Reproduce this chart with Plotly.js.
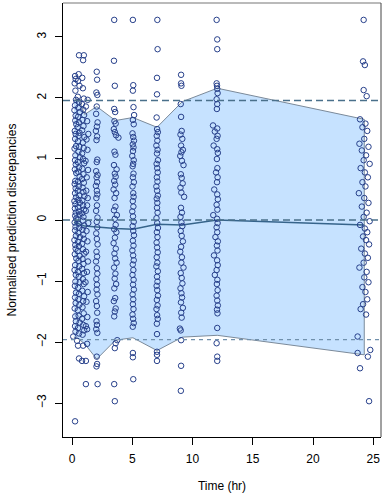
<!DOCTYPE html>
<html>
<head>
<meta charset="utf-8">
<script src="https://cdn.plot.ly/plotly-3.0.1.min.js"></script>
<style>
  html, body { margin: 0; padding: 0; background: #ffffff; }
  #plot { width: 383px; height: 498px; }
</style>
</head>
<body>
<div id="plot"></div>
<script>
// Observations: [time (hr), normalised prediction discrepancy], grouped by visit
const visitQ = [
  [0.25,2.36],[0.30,2.31],[0.22,2.24],[0.28,2.12],[0.33,1.97],[0.25,1.88],[0.20,1.80],[0.30,1.71],[0.27,1.63],[0.35,1.57],
  [0.23,1.46],[0.30,1.41],[0.26,1.33],[0.33,1.21],[0.21,1.17],[0.28,1.06],[0.25,0.98],[0.31,0.91],[0.24,0.83],[0.35,0.77],
  [0.27,0.64],[0.22,0.59],[0.30,0.52],[0.25,0.44],[0.33,0.37],[0.20,0.31],[0.28,0.26],[0.24,0.19],[0.31,0.12],[0.26,0.07],
  [0.34,0.02],[0.22,-0.04],[0.29,-0.11],[0.25,-0.17],[0.32,-0.26],[0.20,-0.33],[0.27,-0.41],[0.30,-0.47],[0.23,-0.56],[0.35,-0.63],
  [0.26,-0.74],[0.21,-0.82],[0.31,-0.90],[0.28,-1.01],[0.24,-1.08],[0.33,-1.19],[0.25,-1.27],[0.30,-1.36],[0.22,-1.45],[0.27,-1.58],
  [0.32,-1.66],[0.25,-1.74],[0.29,-1.83],[0.10,-1.91],[0.25,-3.30]
];
const visitH = [
  [0.55,2.39],[0.50,2.28],[0.62,2.20],[0.48,2.02],[0.58,1.93],[0.52,1.84],[0.65,1.77],[0.50,1.69],[0.57,1.60],
  [0.47,1.52],[0.62,1.43],[0.55,1.38],[0.50,1.29],[0.60,1.20],[0.53,1.12],[0.66,1.03],[0.48,0.95],[0.58,0.86],[0.52,0.79],
  [0.63,0.71],[0.50,0.63],[0.56,0.55],[0.47,0.48],[0.60,0.40],[0.53,0.33],[0.65,0.28],[0.50,0.21],[0.57,0.14],[0.62,0.09],
  [0.48,0.01],[0.55,-0.06],[0.60,-0.13],[0.52,-0.21],[0.66,-0.28],[0.50,-0.36],[0.57,-0.43],[0.47,-0.51],[0.62,-0.59],[0.54,-0.67],
  [0.60,-0.76],[0.49,-0.85],[0.56,-0.93],[0.64,-1.02],[0.51,-1.11],[0.58,-1.21],[0.53,-1.30],[0.61,-1.39],[0.48,-1.48],[0.55,-1.57],
  [0.63,-1.68],[0.50,-1.77],[0.58,-1.86],[0.42,-1.98],[0.50,-2.06],[0.58,-2.27]
];
const visit1 = [
  [0.58,2.70],[0.98,2.70],[0.92,2.62],[0.85,2.33],[0.90,2.16],[0.98,1.99],[0.82,1.90],[0.93,1.81],[1.00,1.72],[0.87,1.64],
  [0.95,1.54],[0.84,1.47],[1.02,1.36],[0.90,1.27],[0.97,1.18],[0.83,1.09],[0.92,1.00],[1.00,0.93],[0.86,0.84],[0.95,0.75],
  [0.82,0.67],[0.98,0.61],[0.88,0.53],[0.94,0.46],[1.03,0.39],[0.85,0.32],[0.92,0.24],[0.99,0.17],[0.84,0.11],[0.95,0.05],
  [0.89,-0.01],[1.01,-0.09],[0.86,-0.16],[0.93,-0.24],[0.98,-0.31],[0.83,-0.39],[0.91,-0.48],[1.02,-0.55],[0.87,-0.64],[0.95,-0.72],
  [0.84,-0.80],[0.99,-0.87],[0.90,-0.97],[0.96,-1.05],[0.85,-1.16],[1.00,-1.25],[0.92,-1.33],[0.87,-1.43],[0.97,-1.53],[0.83,-1.62],
  [0.94,-1.72],[1.01,-1.81],[0.88,-1.88],[0.92,-2.06],[0.83,-2.31]
];
const visit1b = [
  [1.30,1.97],[1.15,1.86],[1.25,1.62],[1.35,1.41],[1.20,1.32],[1.28,1.15],[1.12,0.97],[1.33,0.82],[1.22,0.70],[1.18,0.48],
  [1.30,0.36],[1.25,0.24],[1.14,0.15],[1.35,-0.05],[1.20,-0.18],[1.28,-0.35],[1.16,-0.52],[1.32,-0.68],[1.24,-0.85],[1.12,-1.02],
  [1.30,-1.18],[1.20,-1.34],[1.27,-1.59],[1.15,-1.74],[1.25,-1.79],[1.25,-2.03],[1.15,-2.31],[1.15,-2.69]
];
const visit2 = [
  [2.05,2.43],[2.08,2.30],[2.02,2.09],[2.10,2.05],[2.05,1.86],[2.00,1.74],[2.12,1.60],[2.06,1.53],[1.98,1.46],[2.08,1.37],
  [2.03,1.31],[2.10,0.99],[2.05,0.95],[2.00,0.80],[2.12,0.74],[2.04,0.70],[2.08,0.62],[1.98,0.56],[2.06,0.48],[2.10,0.42],
  [2.02,0.36],[2.07,0.24],[2.00,0.15],[2.11,0.04],[2.05,-0.03],[2.09,-0.12],[2.01,-0.22],[2.06,-0.31],[2.12,-0.40],[2.03,-0.52],
  [2.08,-0.60],[1.99,-0.68],[2.06,-0.79],[2.10,-0.88],[2.02,-0.97],[2.07,-1.06],[2.04,-1.14],[2.11,-1.22],[2.00,-1.33],[2.06,-1.41],
  [2.09,-1.52],[2.03,-1.66],[2.07,-1.72],[2.01,-1.79],[2.10,-1.85],[2.05,-2.24],[2.08,-2.36],[2.03,-2.40],[2.12,-2.69]
];
const visit3 = [
  [3.50,3.28],[3.48,2.61],[3.55,2.20],[3.50,1.82],[3.58,1.77],[3.52,1.62],[3.62,1.58],[3.47,1.49],[3.55,1.44],[3.65,1.39],
  [3.85,1.35],[3.52,1.12],[3.60,1.07],[3.48,0.90],[3.70,0.83],[3.55,0.76],[3.62,0.71],[3.50,0.64],[3.58,0.58],[3.45,0.50],
  [3.66,0.44],[3.53,0.36],[3.60,0.22],[3.48,0.16],[3.72,0.08],[3.55,0.02],[3.62,-0.08],[3.50,-0.15],[3.68,-0.20],[3.56,-0.29],
  [3.45,-0.38],[3.63,-0.47],[3.52,-0.55],[3.58,-0.63],[3.70,-0.70],[3.49,-0.78],[3.60,-0.88],[3.54,-0.96],[3.66,-1.05],[3.51,-1.12],
  [3.58,-1.28],[3.47,-1.33],[3.62,-1.45],[3.55,-1.50],[3.50,-1.58],[3.75,-1.97],[3.62,-2.02],[3.55,-2.10],[3.50,-2.69],[3.55,-2.97]
];
const visit5 = [
  [5.05,3.28],[5.08,2.21],[5.05,2.12],[5.10,1.85],[5.15,1.72],[5.05,1.64],[5.12,1.57],[5.02,1.42],[5.08,1.36],[5.14,1.30],
  [5.04,1.24],[5.10,1.19],[5.06,1.13],[5.00,1.05],[5.12,0.98],[5.07,0.92],[5.03,0.88],[5.10,0.76],[5.05,0.70],[5.13,0.62],
  [5.02,0.55],[5.08,0.44],[5.11,0.38],[5.04,0.31],[5.09,0.22],[5.00,0.14],[5.06,0.06],[5.12,-0.03],[5.03,-0.10],[5.08,-0.18],
  [5.14,-0.25],[5.05,-0.34],[5.10,-0.42],[5.01,-0.50],[5.07,-0.58],[5.12,-0.66],[5.04,-0.73],[5.09,-0.82],[5.02,-0.90],[5.11,-0.98],
  [5.06,-1.06],[5.13,-1.14],[5.03,-1.22],[5.08,-1.30],[5.05,-1.38],[5.10,-1.46],[5.02,-1.55],[5.07,-1.62],[5.12,-1.69],[5.04,-1.75],
  [5.05,-2.18],[5.05,-2.25],[5.08,-2.61]
];
const visit7 = [
  [7.08,3.28],[7.10,2.80],[7.05,2.33],[7.05,2.06],[7.02,1.68],[7.06,1.49],[7.12,1.44],[7.03,1.38],[7.08,1.30],[7.00,1.22],
  [7.10,1.15],[7.05,1.09],[7.13,0.98],[7.02,0.92],[7.07,0.85],[7.11,0.78],[7.04,0.70],[7.09,0.63],[7.00,0.55],[7.06,0.48],
  [7.12,0.40],[7.03,0.35],[7.08,0.28],[7.05,0.20],[7.10,0.12],[7.01,0.03],[7.07,-0.05],[7.13,-0.13],[7.04,-0.20],[7.09,-0.28],
  [7.02,-0.37],[7.06,-0.45],[7.11,-0.53],[7.03,-0.61],[7.08,-0.70],[7.00,-0.76],[7.12,-0.84],[7.05,-0.93],[7.09,-1.01],[7.02,-1.08],
  [7.07,-1.15],[7.13,-1.24],[7.04,-1.31],[7.10,-1.40],[7.01,-1.46],[7.06,-1.56],[7.11,-1.62],[7.04,-1.70],[7.05,-1.87],[7.05,-2.16],
  [7.05,-2.21],[7.05,-2.31]
];
const visit9 = [
  [9.05,2.38],[9.05,2.24],[9.08,2.20],[9.02,1.90],[9.05,1.69],[9.10,1.46],[9.00,1.40],[9.15,1.33],[9.05,1.22],[9.20,1.15],
  [9.08,1.11],[8.98,1.05],[9.12,0.97],[9.25,0.90],[9.03,0.75],[9.10,0.69],[9.18,0.60],[9.00,0.53],[9.07,0.45],[9.30,0.38],
  [9.04,0.20],[9.12,0.12],[9.00,0.05],[9.08,-0.04],[9.15,-0.10],[9.02,-0.18],[9.10,-0.26],[9.20,-0.35],[9.05,-0.44],[8.98,-0.52],
  [9.12,-0.61],[9.07,-0.70],[9.25,-0.78],[9.02,-0.87],[9.10,-0.95],[9.16,-1.04],[9.00,-1.12],[9.08,-1.20],[9.13,-1.27],[9.04,-1.35],
  [9.20,-1.44],[9.06,-1.52],[9.10,-1.60],[8.95,-1.78],[9.02,-1.81],[9.05,-1.97],[9.05,-2.39],[9.03,-2.80]
];
const visit12 = [
  [12.00,3.28],[12.05,2.96],[12.05,2.80],[12.00,2.24],[12.03,2.20],[12.05,2.15],[12.08,2.08],[12.00,1.98],[12.05,1.90],[12.02,1.82],
  [11.70,1.55],[12.05,1.50],[11.85,1.45],[12.08,1.38],[12.00,1.33],[11.75,1.22],[12.05,1.16],[12.10,1.10],[12.02,1.00],[12.06,0.85],
  [11.95,0.78],[12.08,0.70],[12.03,0.62],[11.80,0.50],[12.05,0.42],[12.10,0.34],[12.00,0.25],[12.06,0.17],[11.72,0.08],[12.03,0.02],
  [12.08,-0.05],[12.00,-0.12],[12.05,-0.20],[11.90,-0.28],[12.10,-0.35],[12.02,-0.42],[12.07,-0.50],[11.78,-0.58],[12.04,-0.66],[12.09,-0.74],
  [12.00,-0.82],[11.85,-0.90],[12.06,-0.98],[12.02,-1.05],[12.08,-1.15],[12.00,-1.24],[12.05,-1.32],[12.10,-1.40],[12.03,-1.47],[12.07,-1.53],
  [12.05,-1.77],[12.00,-2.02],[12.05,-2.24],[12.05,-2.31]
];
const visit24 = [
  [24.20,3.28],[24.15,2.60],[24.30,2.54],[24.20,2.13],[24.45,2.03],[23.90,1.65],[24.35,1.58],[24.10,1.52],[24.50,1.46],[24.25,1.33],
  [23.85,1.25],[24.60,1.20],[24.05,1.14],[24.40,1.06],[24.20,0.98],[24.70,0.92],[23.95,0.85],[24.30,0.78],[24.55,0.70],[24.10,0.62],
  [24.35,0.55],[23.80,0.44],[24.25,0.36],[24.60,0.28],[24.05,0.22],[24.45,0.12],[24.20,0.05],[24.70,-0.02],[23.90,-0.08],[24.30,-0.14],
  [24.50,-0.20],[24.15,-0.27],[24.40,-0.33],[24.65,-0.40],[24.00,-0.47],[24.30,-0.55],[24.55,-0.62],[24.20,-0.70],[23.85,-0.78],[24.45,-0.85],
  [24.25,-0.94],[24.60,-1.02],[24.10,-1.10],[24.35,-1.18],[24.50,-1.30],[24.15,-1.38],[23.95,-1.46],[24.40,-1.55],[23.70,-1.91],[24.75,-2.13],
  [23.70,-2.18],[24.55,-2.24],[23.90,-2.43],[24.65,-2.97]
];

// Simulated 95% prediction interval and median per time bin
const binTime  = [0.15, 0.55, 1.05, 2.05, 3.6, 5.05, 7.05, 9.15, 12.05, 24.25];
const piUpper  = [1.96, 1.99, 1.73, 1.86, 1.63, 1.68, 1.52, 1.94, 2.16, 1.65];
const piLower  = [-1.92, -1.95, -2.03, -2.28, -1.97, -1.93, -2.14, -1.92, -1.89, -2.21];
const piMedian = [-0.04, -0.06, -0.10, -0.12, -0.14, -0.15, -0.07, -0.08, 0.00, -0.08];

// Reference levels of the standard normal: 2.5%, 50%, 97.5% quantiles
const refLevels = [1.96, 0, -1.96];

const xTicks = [0, 5, 10, 15, 20, 25];
const yTicks = [-3, -2, -1, 0, 1, 2, 3];

const allObs = [].concat(visitQ, visitH, visit1, visit1b, visit2, visit3, visit5, visit7, visit9, visit12, visit24);
const obsTime = allObs.map(p => p[0]);
const obsNpde = allObs.map(p => p[1]);

const band = {
  type: 'scatter', mode: 'lines',
  x: binTime.concat(binTime.slice().reverse()),
  y: piUpper.concat(piLower.slice().reverse()),
  fill: 'toself', fillcolor: '#C6E2FF',
  line: { color: '#7B8A9A', width: 1 },
  hoverinfo: 'skip', showlegend: false
};

const median = {
  type: 'scatter', mode: 'lines',
  x: binTime, y: piMedian,
  line: { color: '#36648B', width: 1.5 },
  showlegend: false
};

const points = {
  type: 'scatter', mode: 'markers',
  x: obsTime, y: obsNpde,
  marker: { symbol: 'circle-open', size: 5.5, color: '#27408B', line: { width: 1, color: '#27408B' } },
  showlegend: false
};

const refShapes = refLevels.map((lv, i) => ({
  type: 'line', xref: 'paper', yref: 'y', x0: 0, x1: 1, y0: lv, y1: lv,
  line: i === 2 ? { color: '#7090AC', width: 1.2, dash: '4px,4px' }
                : { color: '#4A708B', width: 1.6, dash: '7px,4px' },
  layer: 'above'
}));

const frameShapes = [
  { type: 'line', xref: 'paper', yref: 'paper', x0: 0, x1: 1, y0: 1, y1: 1, line: { color: '#777777', width: 1.2 } },
  { type: 'line', xref: 'paper', yref: 'paper', x0: 1, x1: 1, y0: 0, y1: 1, line: { color: '#444444', width: 1 } }
];

const font = { family: 'Liberation Sans, Arial, sans-serif', size: 12, color: '#000000' };

const layout = {
  width: 383, height: 498,
  margin: { l: 63, r: 2, t: 3, b: 61 },
  paper_bgcolor: '#ffffff', plot_bgcolor: '#ffffff',
  font: font,
  showlegend: false,
  xaxis: {
    range: [-0.75, 25.64],
    tickvals: xTicks, ticks: 'outside', ticklen: 7, tickwidth: 1, tickcolor: '#000',
    showline: true, linecolor: '#000', linewidth: 1,
    showgrid: false, zeroline: false,
    ticklabelstandoff: 4,
    title: { text: 'Time (hr)', font: font, standoff: 16 }
  },
  yaxis: {
    range: [-3.557, 3.557],
    tickvals: yTicks, ticks: 'outside', ticklen: 7, tickwidth: 1, tickcolor: '#000',
    tickangle: -90,
    showline: true, linecolor: '#000', linewidth: 1,
    showgrid: false, zeroline: false,
    ticklabelstandoff: 4,
    title: { text: 'Normalised prediction discrepancies', font: font, standoff: 16 }
  },
  shapes: refShapes.concat(frameShapes)
};

Plotly.newPlot('plot', [band, median, points], layout, { staticPlot: true, displayModeBar: false });
</script>
</body>
</html>
